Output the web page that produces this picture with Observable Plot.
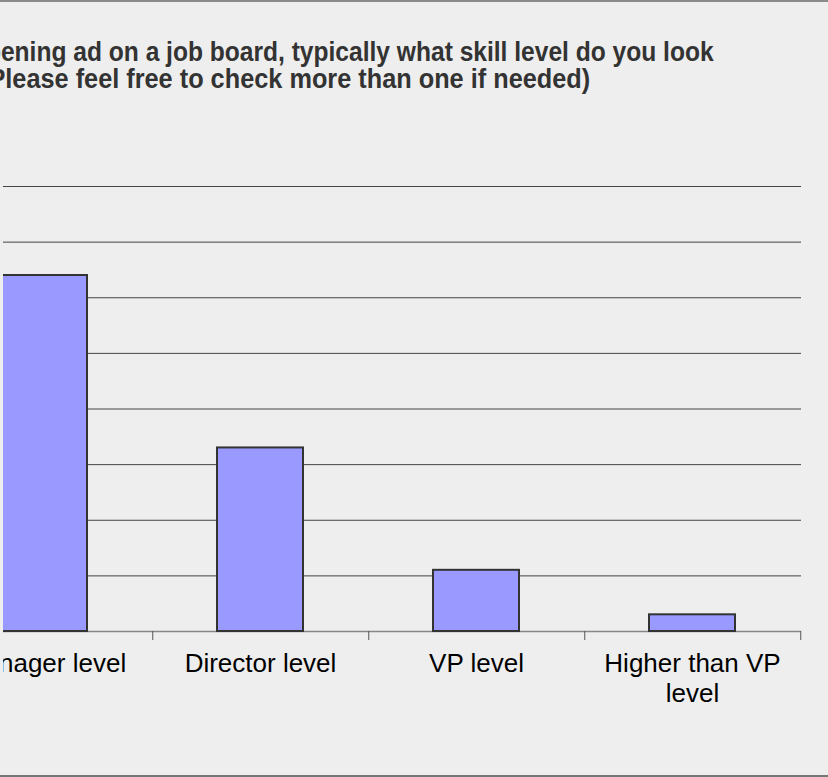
<!DOCTYPE html>
<html><head><meta charset="utf-8">
<script src="https://cdn.jsdelivr.net/npm/d3@7"></script>
<script src="https://cdn.jsdelivr.net/npm/@observablehq/plot@0.6"></script>
<style>
html,body{margin:0;padding:0;background:#eeeeee;overflow:hidden}
#frame{position:relative;width:828px;height:777px;background:#eeeeee;overflow:hidden}
#topline{position:absolute;left:0;top:0;width:828px;height:2px;background:#8a8a8a}
#bottomline{position:absolute;left:0;top:775px;width:828px;height:2px;background:#777}
.title{position:absolute;white-space:nowrap;font-family:"Liberation Sans",Arial,sans-serif;font-weight:bold;font-size:27px;color:#333;line-height:1;transform-origin:right center}
#t1{right:114px;top:39px;transform:scaleX(0.91)}
#t2{right:238px;top:66px;transform:scaleX(0.937)}
#chart{position:absolute;left:0;top:0;clip-path:inset(0 0 0 3px)}
</style>
</head><body>
<div id="frame">
  <div id="topline"></div>
  <div class="title" id="t1">When posting a job opening ad on a job board, typically what skill level do you look</div>
  <div class="title" id="t2">for? (Please feel free to check more than one if needed)</div>
  <div id="chart"></div>
  <div id="bottomline"></div>
</div>
<script>
const categories = ["Manager level", "Director level", "VP level", "Higher than VP level"];
const labels = ["Manager level", "Director level", "VP level", "Higher than VP\nlevel"];
const values = [64, 33, 11, 3];
const gridTicks = [10, 20, 30, 40, 50, 60, 70, 80];

const data = categories.map((c, i) => ({category: c, label: labels[i], value: values[i]}));
const xRange = [-65, 801];
const step = (xRange[1] - xRange[0]) / categories.length;

const chart = Plot.plot({
  width: 828,
  height: 777,
  marginLeft: 0,
  marginRight: 27,
  marginTop: 186,
  marginBottom: 146,
  style: {background: "transparent", overflow: "visible"},
  x: {domain: categories, range: xRange, paddingInner: 0.6, paddingOuter: 0.3, axis: null},
  y: {domain: [0, 80], range: [631, 186], axis: null},
  marks: [
    Plot.ruleY(gridTicks, {stroke: "#444", strokeWidth: 1}),
    Plot.ruleY([0], {stroke: "#888", strokeWidth: 1.5}),
    Plot.barY(data, {x: "category", y: "value", fill: "#9999ff", stroke: "#333", strokeWidth: 2}),
    Plot.ruleX(categories, {x: d => d, dx: step / 2, y1: 0, y2: 0, insetBottom: -9, stroke: "#555"}),
    Plot.text(data, {x: "category", y: 0, text: "label", dy: 20, lineAnchor: "top", fontSize: 26, fill: "#000", fontFamily: "Liberation Sans", lineHeight: 1.13})
  ]
});
document.getElementById("chart").append(chart);
</script>
</body></html>
